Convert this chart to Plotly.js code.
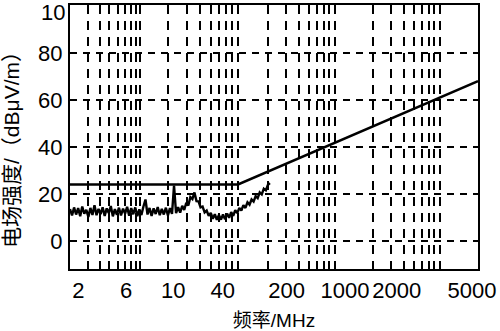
<!DOCTYPE html>
<html>
<head>
<meta charset="utf-8">
<script src="https://cdn.plot.ly/plotly-3.0.1.min.js"></script>
<style>html,body{margin:0;padding:0;background:#fff;}#chart{width:500px;height:331px;}</style>
</head>
<body>
<div id="chart"></div>
<script>
// Limit line (MHz, dBμV/m)
const limitFreq = [1, 44.4, 10000];
const limitLevel = [24, 24, 68];

// Measured field strength (MHz, dBμV/m)
const measFreq = [
  1.000, 1.047, 1.096, 1.148, 1.202, 1.259, 1.318, 1.380, 1.445, 1.514,
  1.585, 1.660, 1.738, 1.820, 1.905, 1.995, 2.089, 2.188, 2.291, 2.399,
  2.512, 2.630, 2.754, 2.884, 3.020, 3.162, 3.311, 3.467, 3.631, 3.802,
  3.981, 4.169, 4.365, 4.571, 4.786, 5.012, 5.248, 5.495, 5.754, 6.026,
  6.310, 6.607, 6.918, 7.244, 7.586, 7.943, 8.318, 8.710, 9.120, 9.550,
  10.00, 10.47, 10.96, 11.48, 12.02, 12.59, 13.18, 13.80, 14.45, 15.14,
  15.85, 16.60, 17.38, 18.20, 19.05, 19.95, 20.89, 21.88, 22.91, 23.99,
  25.12, 26.30, 27.54, 28.84, 30.20, 31.62, 33.11, 34.67, 36.31, 38.02,
  39.81, 41.69, 43.65, 45.71, 47.86, 50.12, 52.48, 54.95, 57.54, 60.26,
  63.10, 66.07, 69.18, 72.44, 75.86, 79.43, 83.18, 87.10, 91.20
];
const measLevel = [
  13.5, 10.8, 14.2, 11.2, 13.9, 10.5, 14.6, 11.5, 13.2, 10.2,
  14.0, 11.0, 15.1, 10.9, 13.6, 11.4, 14.3, 10.6, 13.8, 11.8,
  14.8, 10.4, 13.5, 11.1, 14.1, 10.8, 13.7, 11.6, 14.5, 10.7,
  13.9, 11.3, 14.2, 10.5, 13.4, 11.0, 14.6, 17.6, 11.2, 14.0,
  10.6, 13.8, 11.4, 14.4, 10.9, 13.6, 11.2, 14.1, 10.8, 13.9,
  11.5, 23.5, 11.8, 14.3, 12.0, 14.9, 13.1, 16.2, 15.0, 18.6,
  17.8, 20.6, 16.9, 16.8, 14.2, 14.6, 12.1, 12.9, 10.6, 11.9,
  9.4, 11.3, 8.9, 11.0, 9.0, 11.2, 9.2, 11.6, 9.8, 12.2,
  10.6, 13.0, 11.8, 14.0, 12.9, 15.2, 14.0, 16.4, 15.4, 17.6,
  16.7, 19.0, 18.2, 20.6, 19.8, 22.2, 21.5, 23.8, 24.6
];

// Axis labelling as printed on the figure
const xTickVals = [1.206, 3.54, 10.3, 31.4, 133.2, 496.6, 1595, 8730];
const xTickText = ["2", "6", "10", "40", "200", "1000", "2000", "5000"];
const xGridVals = [
  1.50, 1.97, 2.41, 2.96, 3.46, 3.99, 4.42, 4.84,
  9.14, 14.0, 18.9, 23.9, 28.9, 33.9, 39.1, 44.3,
  87.3, 131.0, 174.7, 218.4, 262.0, 305.7, 349.4, 393.0,
  934.6, 1401.9, 1869.2, 2336.5, 2803.8, 3271.1, 3738.4, 4205.7
];
const yTickVals = [0, 20, 40, 60, 80];
const yTickText = ["0", "20", "40", "60", "80"];

const FONT = "Liberation Sans, Arial, Noto Sans CJK SC, sans-serif";

const traces = [
  {
    x: measFreq, y: measLevel, type: "scatter", mode: "lines",
    line: {color: "#000", width: 2.4}, hoverinfo: "skip", showlegend: false
  },
  {
    x: limitFreq, y: limitLevel, type: "scatter", mode: "lines",
    line: {color: "#000", width: 2.6}, hoverinfo: "skip", showlegend: false
  }
];

const layout = {
  width: 500, height: 331,
  margin: {l: 70, r: 22, t: 5, b: 62},
  paper_bgcolor: "#fff", plot_bgcolor: "#fff",
  font: {family: FONT, color: "#000", size: 22},
  showlegend: false,
  xaxis: {
    type: "log", range: [0, 4],
    tickmode: "array", tickvals: xTickVals, ticktext: xTickText,
    ticks: "", showgrid: false, zeroline: false,
    showline: true, mirror: true, linecolor: "#000", linewidth: 2,
    tickfont: {size: 22, family: FONT, color: "#000"},
    ticklabelstandoff: 1,
    minor: {
      tickmode: "array", tickvals: xGridVals, ticks: "",
      showgrid: true, gridcolor: "#000", gridwidth: 2, griddash: "9px,7px"
    },
    title: {text: "频率/MHz", font: {size: 19, family: FONT, color: "#000"}, standoff: 11}
  },
  yaxis: {
    range: [-12, 100.4],
    tickmode: "array", tickvals: yTickVals, ticktext: yTickText,
    ticks: "", showgrid: true, gridcolor: "#000", gridwidth: 2, griddash: "7px,6px",
    zeroline: false,
    showline: true, mirror: true, linecolor: "#000", linewidth: 2,
    tickfont: {size: 22, family: FONT, color: "#000"},
    ticklabelstandoff: 1
  },
  annotations: [
    {text: "10", xref: "paper", yref: "y", x: -0.008, y: 97.2, xanchor: "right", yanchor: "middle",
     showarrow: false, font: {size: 22, family: FONT, color: "#000"}},
    {text: "-10", xref: "paper", yref: "y", x: -0.029, y: -18.7, xanchor: "right", yanchor: "middle",
     showarrow: false, font: {size: 22, family: FONT, color: "#000"}},
    {text: "电场强度/（dBμV/m）", xref: "paper", yref: "paper", x: -0.142, y: 0.47,
     xanchor: "center", yanchor: "middle", textangle: -90,
     showarrow: false, font: {size: 21, family: FONT, color: "#000"}}
  ]
};

Plotly.newPlot("chart", traces, layout, {staticPlot: true, displayModeBar: false});
</script>
</body>
</html>
